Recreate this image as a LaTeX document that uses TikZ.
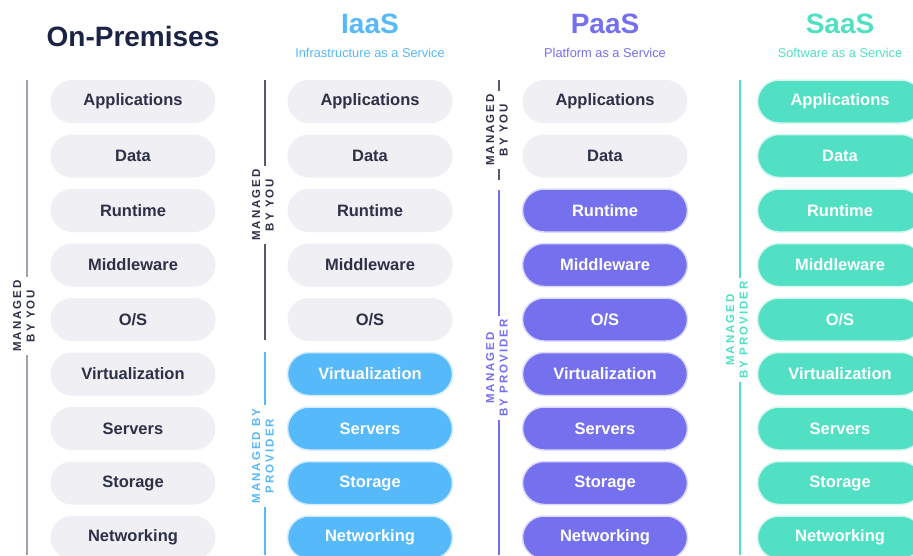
\documentclass[tikz,border=0pt]{standalone}
\usepackage{fontspec}
\setmainfont{Liberation Sans}
\definecolor{navy}{HTML}{1C2445}
\definecolor{ink}{HTML}{2D3047}
\definecolor{pillgrey}{HTML}{EFEFF4}
\definecolor{sideline}{HTML}{9FA1B0}
\definecolor{iaas}{HTML}{56B9FA}
\definecolor{paas}{HTML}{7570EE}
\definecolor{saas}{HTML}{52E0C4}
\tikzset{
  pill/.style={rectangle, rounded corners=21.5pt, minimum width=165pt, minimum height=43pt,
    inner sep=0pt, font=\fontsize{16.5}{18}\selectfont\bfseries},
  pillgrey/.style={pill, fill=pillgrey, text=ink},
  pillcol/.style={pill, fill=#1, draw=#1!25, line width=1.5pt, text=white},
  sidelab/.style={rotate=90, align=center, inner sep=3pt,
    font=\fontsize{11.5}{13.5}\selectfont\bfseries\addfontfeature{LetterSpace=18}, text=#1},
  sideln/.style={draw=#1, line width=1.3pt},
  bigtitle/.style={font=\fontsize{28}{30}\selectfont\bfseries},
  subtitle/.style={font=\fontsize{12.8}{14}\selectfont},
}
\begin{document}
\begin{tikzpicture}[x=1pt,y=-1pt]
\useasboundingbox[fill=white] (0,0) rectangle (913,555);
\clip (0,0) rectangle (913,555);

% titles
\node[bigtitle, text=navy] (tOP) at (133,36) {On-Premises};
\node[bigtitle, text=iaas] (tI) at (370,24) {IaaS};
\node[subtitle, text=iaas] (sI) at (370,53) {Infrastructure as a Service};
\node[bigtitle, text=paas] (tP) at (605,24) {PaaS};
\node[subtitle, text=paas] (sP) at (605,53) {Platform as a Service};
\node[bigtitle, text=saas] (tS) at (840,24) {SaaS};
\node[subtitle, text=saas] (sS) at (840,53) {Software as a Service};

% pills
\foreach \t [count=\i] in {Applications,Data,Runtime,Middleware,O/S,Virtualization,Servers,Storage,Networking}{
  \pgfmathsetmacro\yy{101.5+(\i-1)*54.5}
  \node[pillgrey] (op\i) at (133,\yy) {\t};
  \ifnum\i<6
    \node[pillgrey] (ia\i) at (370,\yy) {\t};
  \else
    \node[pillcol=iaas] (ia\i) at (370,\yy) {\t};
  \fi
  \ifnum\i<3
    \node[pillgrey] (pa\i) at (605,\yy) {\t};
  \else
    \node[pillcol=paas] (pa\i) at (605,\yy) {\t};
  \fi
  \node[pillcol=saas] (sa\i) at (840,\yy) {\t};
}

% side labels and lines
\node[sidelab=ink] (lOP) at (24,316) {MANAGED\\BY YOU};
\coordinate (oT) at (27,80);
\coordinate (oB) at (27,555);
\draw[sideln=sideline] (oT) -- (oT |- lOP.east);
\draw[sideln=sideline] (oB |- lOP.west) -- (oB);

\node[sidelab=ink] (lIa) at (263,205) {MANAGED\\BY YOU};
\coordinate (iT) at (265,80);
\coordinate (iM) at (265,340);
\draw[sideln=ink!80] (iT) -- (iT |- lIa.east);
\draw[sideln=ink!80] (iM |- lIa.west) -- (iM);

\node[sidelab=iaas] (lIb) at (263,456) {MANAGED BY\\PROVIDER};
\coordinate (jT) at (265,352);
\coordinate (jB) at (265,555);
\draw[sideln=iaas] (jT) -- (jT |- lIb.east);
\draw[sideln=iaas] (jB |- lIb.west) -- (jB);

\node[sidelab=ink] (lPa) at (497,130) {MANAGED\\BY YOU};
\coordinate (pT) at (499,80);
\coordinate (pM) at (499,180);
\draw[sideln=ink!80] (pT) -- (pT |- lPa.east);
\draw[sideln=ink!80] (pM |- lPa.west) -- (pM);

\node[sidelab=paas] (lPb) at (497,368) {MANAGED\\BY PROVIDER};
\coordinate (qT) at (499,190);
\coordinate (qB) at (499,555);
\draw[sideln=paas] (qT) -- (qT |- lPb.east);
\draw[sideln=paas] (qB |- lPb.west) -- (qB);

\node[sidelab=saas] (lSa) at (737,330) {MANAGED\\BY PROVIDER};
\coordinate (sT) at (740,80);
\coordinate (sB) at (740,555);
\draw[sideln=saas] (sT) -- (sT |- lSa.east);
\draw[sideln=saas] (sB |- lSa.west) -- (sB);
\end{tikzpicture}
\end{document}
